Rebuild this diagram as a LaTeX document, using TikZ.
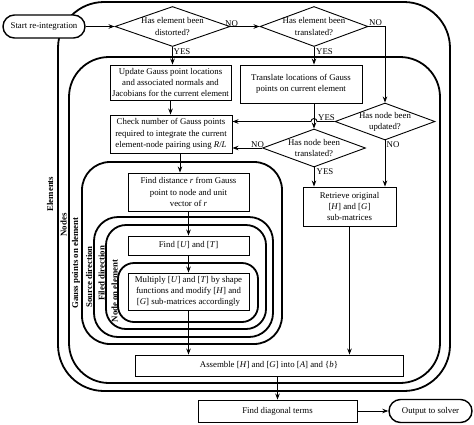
\documentclass[tikz,border=0pt]{standalone}
\usepackage{fontspec}
\setmainfont{Liberation Serif}
\usetikzlibrary{shapes.geometric,shapes.misc,arrows.meta,calc}
\begin{document}
\begin{tikzpicture}[x=1pt,y=-1pt,
  font=\fontsize{8.8}{11.2}\selectfont,
  box/.style={draw,fill=white,line width=0.9pt,align=center,inner sep=1pt},
  dec/.style={draw,fill=white,diamond,line width=0.9pt,inner sep=0pt},
  term/.style={draw,fill=white,rounded rectangle,line width=1.4pt,inner sep=1pt},
  loopline/.style={line width=1.8pt},
  looplab/.style={rotate=90,font=\fontsize{8.8}{10}\selectfont\bfseries,inner sep=0pt},
  arr/.style={line width=0.9pt,-{Stealth[length=6pt,width=4.5pt]}},
  plain/.style={line width=0.9pt},
  lab/.style={inner sep=0pt,anchor=base west,font=\fontsize{8.8}{10}\selectfont}
]
\useasboundingbox (0,0) rectangle (474,424);

% loops
\draw[loopline, rounded corners=46pt] (58,2) rectangle (450,391);
\draw[loopline, rounded corners=40pt] (69,57) rectangle (440,383);
\draw[loopline, rounded corners=28pt] (82,162) rectangle (282,344);
\draw[loopline, rounded corners=24pt] (94,217) rectangle (273,337);
\draw[loopline, rounded corners=20pt] (106,225) rectangle (266,329);
\draw[loopline, rounded corners=16pt] (118,263) rectangle (258,322);

% loop labels
\node[looplab] (lelem) at (50,194) {Elements};
\node[looplab] (lnode) at (63.5,225) {Nodes};
\node[looplab] (lgauss) at (76,263) {Gauss points on element};
\node[looplab] (lsrc) at (89,277) {Source direction};
\node[looplab] (lfld) at (101.5,273.5) {Filed direction};
\node[looplab] (lnoe) at (114.5,291) {Node on element};

% nodes
\node[term, minimum width=84pt, minimum height=23pt] (start) at (44,26.5) {Start re-integration};
\node[dec, minimum width=115pt, minimum height=40pt,
  label={[align=center,inner sep=0pt]center:Has element been\\distorted?}] (d1) at (172.5,26.5) {};
\node[dec, minimum width=108pt, minimum height=40pt,
  label={[align=center,inner sep=0pt]center:Has element been\\translated?}] (d2) at (314,26.5) {};
\node[box, minimum width=121pt, minimum height=35pt] (upd) at (170.5,82.5)
  {Update Gauss point locations\\and associated normals and\\Jacobians for the current element};
\node[box, minimum width=122pt, minimum height=38pt] (trans) at (301,84)
  {Translate locations of Gauss\\points on current element};
\node[box, minimum width=122pt, minimum height=38pt] (check) at (171,134)
  {Check number of Gauss points\\required to integrate the current\\element-node pairing using \textit{R}/\textit{L}};
\node[dec, minimum width=100pt, minimum height=37pt,
  label={[align=center,inner sep=0pt]center:Has node been\\updated?}] (dupd) at (385,121.5) {};
\node[dec, minimum width=103pt, minimum height=38pt,
  label={[align=center,inner sep=0pt]center:Has node been\\translated?}] (dtr) at (314,148) {};
\node[box, minimum width=93pt, minimum height=39pt] (retr) at (349.5,206.5)
  {Retrieve original\\{}[\textit{H}] and [\textit{G}]\\sub-matrices};
\node[box, minimum width=121pt, minimum height=38pt] (fd) at (188.5,192)
  {Find distance \textit{r} from Gauss\\point to node and unit\\vector of \textit{r}};
\node[box, minimum width=121pt, minimum height=19pt] (ut) at (188.5,245.5)
  {Find [\textit{U}] and [\textit{T}]};
\node[box, minimum width=121pt, minimum height=37pt] (mult) at (188.5,291.5)
  {Multiply [\textit{U}] and [\textit{T}] by shape\\functions and modify [\textit{H}] and\\{}[\textit{G}] sub-matrices accordingly};
\node[box, minimum width=268pt, minimum height=21pt] (asm) at (269,365.5)
  {Assemble [\textit{H}] and [\textit{G}] into [\textit{A}] and \{\textit{b}\}};
\node[box, minimum width=159pt, minimum height=22pt] (diag) at (277.5,411)
  {Find diagonal terms};
\node[term, minimum width=85pt, minimum height=23pt] (out) at (430.5,411) {Output to solver};

% connectors
\draw[arr] (start.east) -- (d1.west);
\draw[arr] (d1.east) -- (d2.west);
\draw[arr] (d1.south) -- (d1.south |- upd.north);
\draw[arr] (d2.south) -- (d2.south |- trans.north);
\draw[arr] (d2.east) -| (dupd.north);
\draw[arr] (upd.south) -- (upd.south |- check.north);
\draw[arr] (trans.south -| dtr.north) -- (dtr.north);
\draw[arr] (dupd.west) -- (317,121.5) arc[start angle=0,end angle=180,radius=3pt] -- (dupd.west -| check.east);
\draw[arr] (dtr.west) -- (dtr.west -| check.east);
\draw[arr] (dtr.south) -- (dtr.south |- retr.north);
\draw[arr] (dupd.south) -- (dupd.south |- retr.north);
\draw[arr] (retr.south) -- (retr.south |- asm.north);
\draw[arr] (check.south -| 180,0) -- (180,0 |- fd.north);
\draw[arr] (fd.south) -- (ut.north);
\draw[arr] (ut.south) -- (mult.north);
\draw[arr] (mult.south) -- (mult.south |- asm.north);
\draw[arr] (asm.south -| diag.north) -- (diag.north);
\draw[arr] (diag.east) -- (out.west);

% branch labels
\node[lab] (no1) at (225,26) {NO};
\node[lab] (yes1) at (173.5,54.5) {YES};
\node[lab] (no2) at (369,25.5) {NO};
\node[lab] (yes2) at (316,54.5) {YES};
\node[lab] (yes3) at (318,120) {YES};
\node[lab] (no3) at (251,147) {NO};
\node[lab] (yes4) at (316.5,174) {YES};
\node[lab] (no4) at (386.5,147.5) {NO};
\end{tikzpicture}
\end{document}
